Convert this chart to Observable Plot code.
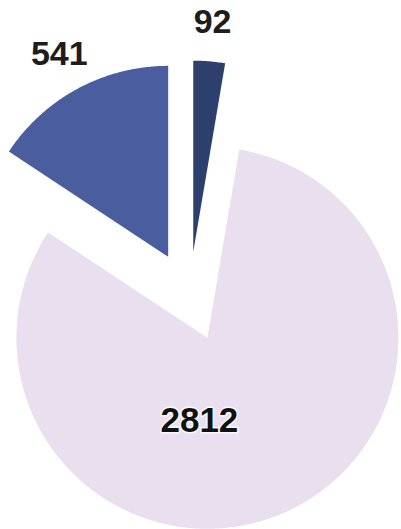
<!DOCTYPE html>
<html>
<head>
<meta charset="utf-8">
<script src="https://cdn.jsdelivr.net/npm/d3@7"></script>
<script src="https://cdn.jsdelivr.net/npm/@observablehq/plot@0.6"></script>
<style>
  html, body { margin: 0; padding: 0; background: #ffffff; }
  #chart svg { display: block; }
</style>
</head>
<body>
<div id="chart"></div>
<script>
// Data (clockwise from 12 o'clock)
const labels = ["92", "2812", "541"];
const values = [92, 2812, 541];
const colors = ["#2d3f6d", "#e9dfef", "#4a5e9f"];

// Layout
const W = 401, H = 529;
const cx = 189, cy = 296;   // pie centre before exploding
const R = 191;              // radius
const explode = 45;         // offset of every slice along its mid-angle
const outerLabelR = 275;    // distance of outside labels from the centre

const arcs = d3.pie().sort(null).startAngle(0).endAngle(2 * Math.PI)(values);

function slicePolygon(a) {
  const mid = (a.startAngle + a.endAngle) / 2;
  const ox = cx + explode * Math.sin(mid);
  const oy = cy - explode * Math.cos(mid);
  const pts = [{x: ox, y: oy}];
  const n = Math.max(2, Math.ceil((a.endAngle - a.startAngle) / (Math.PI / 360)));
  for (let i = 0; i <= n; i++) {
    const t = a.startAngle + (a.endAngle - a.startAngle) * i / n;
    pts.push({x: ox + R * Math.sin(t), y: oy - R * Math.cos(t)});
  }
  pts.push({x: ox, y: oy});
  return {pts, ox, oy, mid};
}

const slices = arcs.map((a, i) => ({...slicePolygon(a), i}));

const labelData = slices.map(s => {
  const big = values[s.i] / d3.sum(values) > 0.5;
  if (big) return {x: s.ox, y: s.oy, text: labels[s.i], inside: true};
  return {
    x: cx + outerLabelR * Math.sin(s.mid),
    y: cy - outerLabelR * Math.cos(s.mid),
    text: labels[s.i], inside: false
  };
});

const chart = Plot.plot({
  width: W,
  height: H,
  margin: 0,
  x: {domain: [0, W], range: [0, W], axis: null},
  y: {domain: [0, H], range: [0, H], axis: null},
  marks: [
    ...slices.map(s => Plot.line(s.pts, {x: "x", y: "y", fill: colors[s.i], stroke: "none", curve: "linear"})),
    Plot.text(labelData.filter(d => !d.inside), {
      x: "x", y: "y", text: "text",
      fontSize: 34, fontWeight: "bold", fontFamily: "Liberation Sans, Arial, sans-serif",
      fill: "#1d1d1d", textAnchor: "middle", lineAnchor: "middle"
    }),
    Plot.text(labelData.filter(d => d.inside), {
      x: "x", y: "y", text: "text", dx: -8, dy: 83,
      fontSize: 35, fontWeight: "bold", fontFamily: "Liberation Sans, Arial, sans-serif",
      fill: "#111111", stroke: "#ffffff", strokeWidth: 3, strokeOpacity: 0.8,
      textAnchor: "middle", lineAnchor: "middle"
    })
  ]
});
document.getElementById("chart").appendChild(chart);
</script>
</body>
</html>
